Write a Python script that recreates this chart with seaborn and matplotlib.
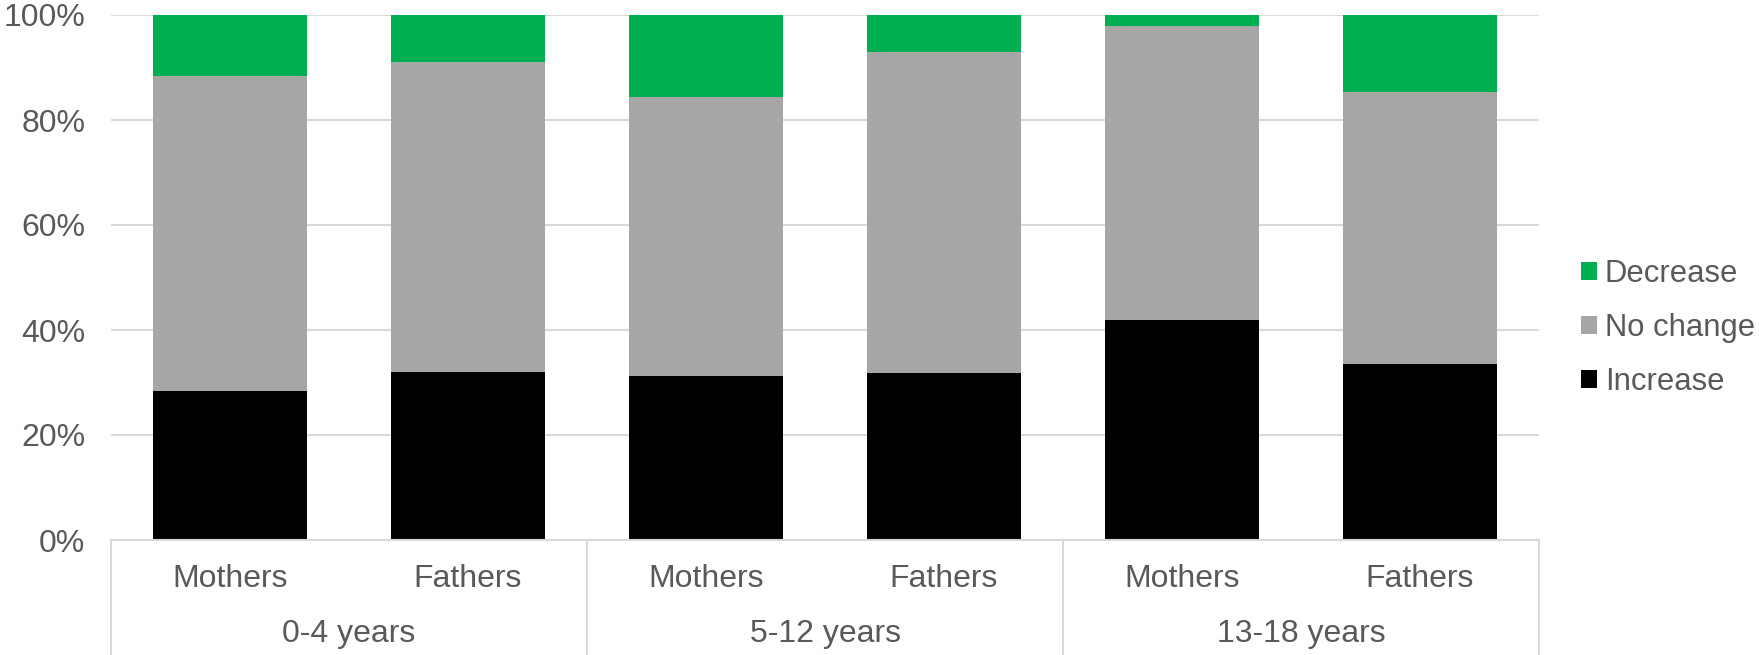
import matplotlib
matplotlib.use("Agg")
import matplotlib.pyplot as plt
import matplotlib.transforms as mtransforms
from matplotlib.patches import Patch
import numpy as np
import pandas as pd
import seaborn as sns

# Share of parents reporting each change, by child age group and parent
age_groups = ["0-4 years", "5-12 years", "13-18 years"]
parents = ["Mothers", "Fathers"]
increase = [28.4, 32.0, 31.3, 31.8, 42.0, 33.5]
no_change = [60.0, 59.0, 53.1, 61.2, 56.0, 51.9]
decrease = [11.6, 9.0, 15.6, 7.0, 2.0, 14.6]
series_names = ["Increase", "No change", "Decrease"]
series_colors = {"Increase": "#000000", "No change": "#A6A6A6", "Decrease": "#00B050"}
y_ticks = [0, 20, 40, 60, 80, 100]

sns.set_theme(style="white")
plt.rcParams["font.family"] = ["Liberation Sans", "DejaVu Sans"]
text_color = "#595959"
grid_color = "#D9D9D9"
fs = 23
legend_fs = 22.3

slots = [f"{g}|{p}" for g in age_groups for p in parents]
df = pd.DataFrame({
    "slot": slots,
    "Increase": increase,
    "No change": no_change,
    "Decrease": decrease,
})
# cumulative tops for stacking
df["top_inc"] = df["Increase"]
df["top_nc"] = df["Increase"] + df["No change"]
df["top_dec"] = df["top_nc"] + df["Decrease"]

fig = plt.figure(figsize=(17.59, 6.55), dpi=100)
W, H = 1759, 655
left, right, top, bottom = 111, 1539, 15, 540
ax = fig.add_axes([left / W, 1 - bottom / H, (right - left) / W, (bottom - top) / H])

bar_w = 0.646
for col, name in [("top_dec", "Decrease"), ("top_nc", "No change"), ("top_inc", "Increase")]:
    sns.barplot(data=df, x="slot", y=col, order=slots, color=series_colors[name],
                saturation=1, width=bar_w, edgecolor="none", linewidth=0,
                errorbar=None, ax=ax, zorder=3)

ax.set_xlim(-0.5, len(slots) - 0.5)
ax.set_ylim(0, 100)
ax.set_yticks(y_ticks)
ax.set_yticklabels([f"{v}%" for v in y_ticks], fontsize=fs, color=text_color)
ax.tick_params(axis="y", length=0, pad=18.5)
ax.tick_params(axis="x", length=0)
ax.set_xlabel("")
ax.set_ylabel("")

# horizontal gridlines
for v in y_ticks[1:]:
    ax.axhline(v, color=grid_color, linewidth=1.5, zorder=1)

for s in ["left", "right", "top"]:
    ax.spines[s].set_visible(False)
ax.spines["bottom"].set_color(grid_color)
ax.spines["bottom"].set_linewidth(1.5)
ax.spines["bottom"].set_zorder(4)

# two-level category axis
ax.set_xticks(range(len(slots)))
ax.set_xticklabels([])
trans = mtransforms.blended_transform_factory(ax.transData, ax.transAxes)
ax_h = bottom - top
for i, s in enumerate(slots):
    ax.text(i, -(579 - bottom) / ax_h, s.split("|")[1], transform=trans,
            ha="center", va="center", fontsize=fs, color=text_color)
for gi, g in enumerate(age_groups):
    ax.text(gi * 2 + 0.5, -(634 - bottom) / ax_h, g, transform=trans,
            ha="center", va="center", fontsize=fs, color=text_color)
for b in [-0.5, 1.5, 3.5, 5.5]:
    ax.plot([b, b], [0, -(H - bottom) / ax_h], transform=trans, color=grid_color,
            linewidth=1.5, clip_on=False, zorder=2)

handles = [Patch(facecolor=series_colors[n], edgecolor="none", label=n)
           for n in ["Decrease", "No change", "Increase"]]
fig.legend(handles=handles, loc="center left", bbox_to_anchor=(1566 / W, 1 - 328 / H),
           frameon=False, fontsize=legend_fs, labelcolor=text_color, handlelength=0.5,
           handleheight=0.5, handletextpad=0.25, labelspacing=0.78, borderpad=0)

fig.savefig("out.png", dpi=100, facecolor="white")
